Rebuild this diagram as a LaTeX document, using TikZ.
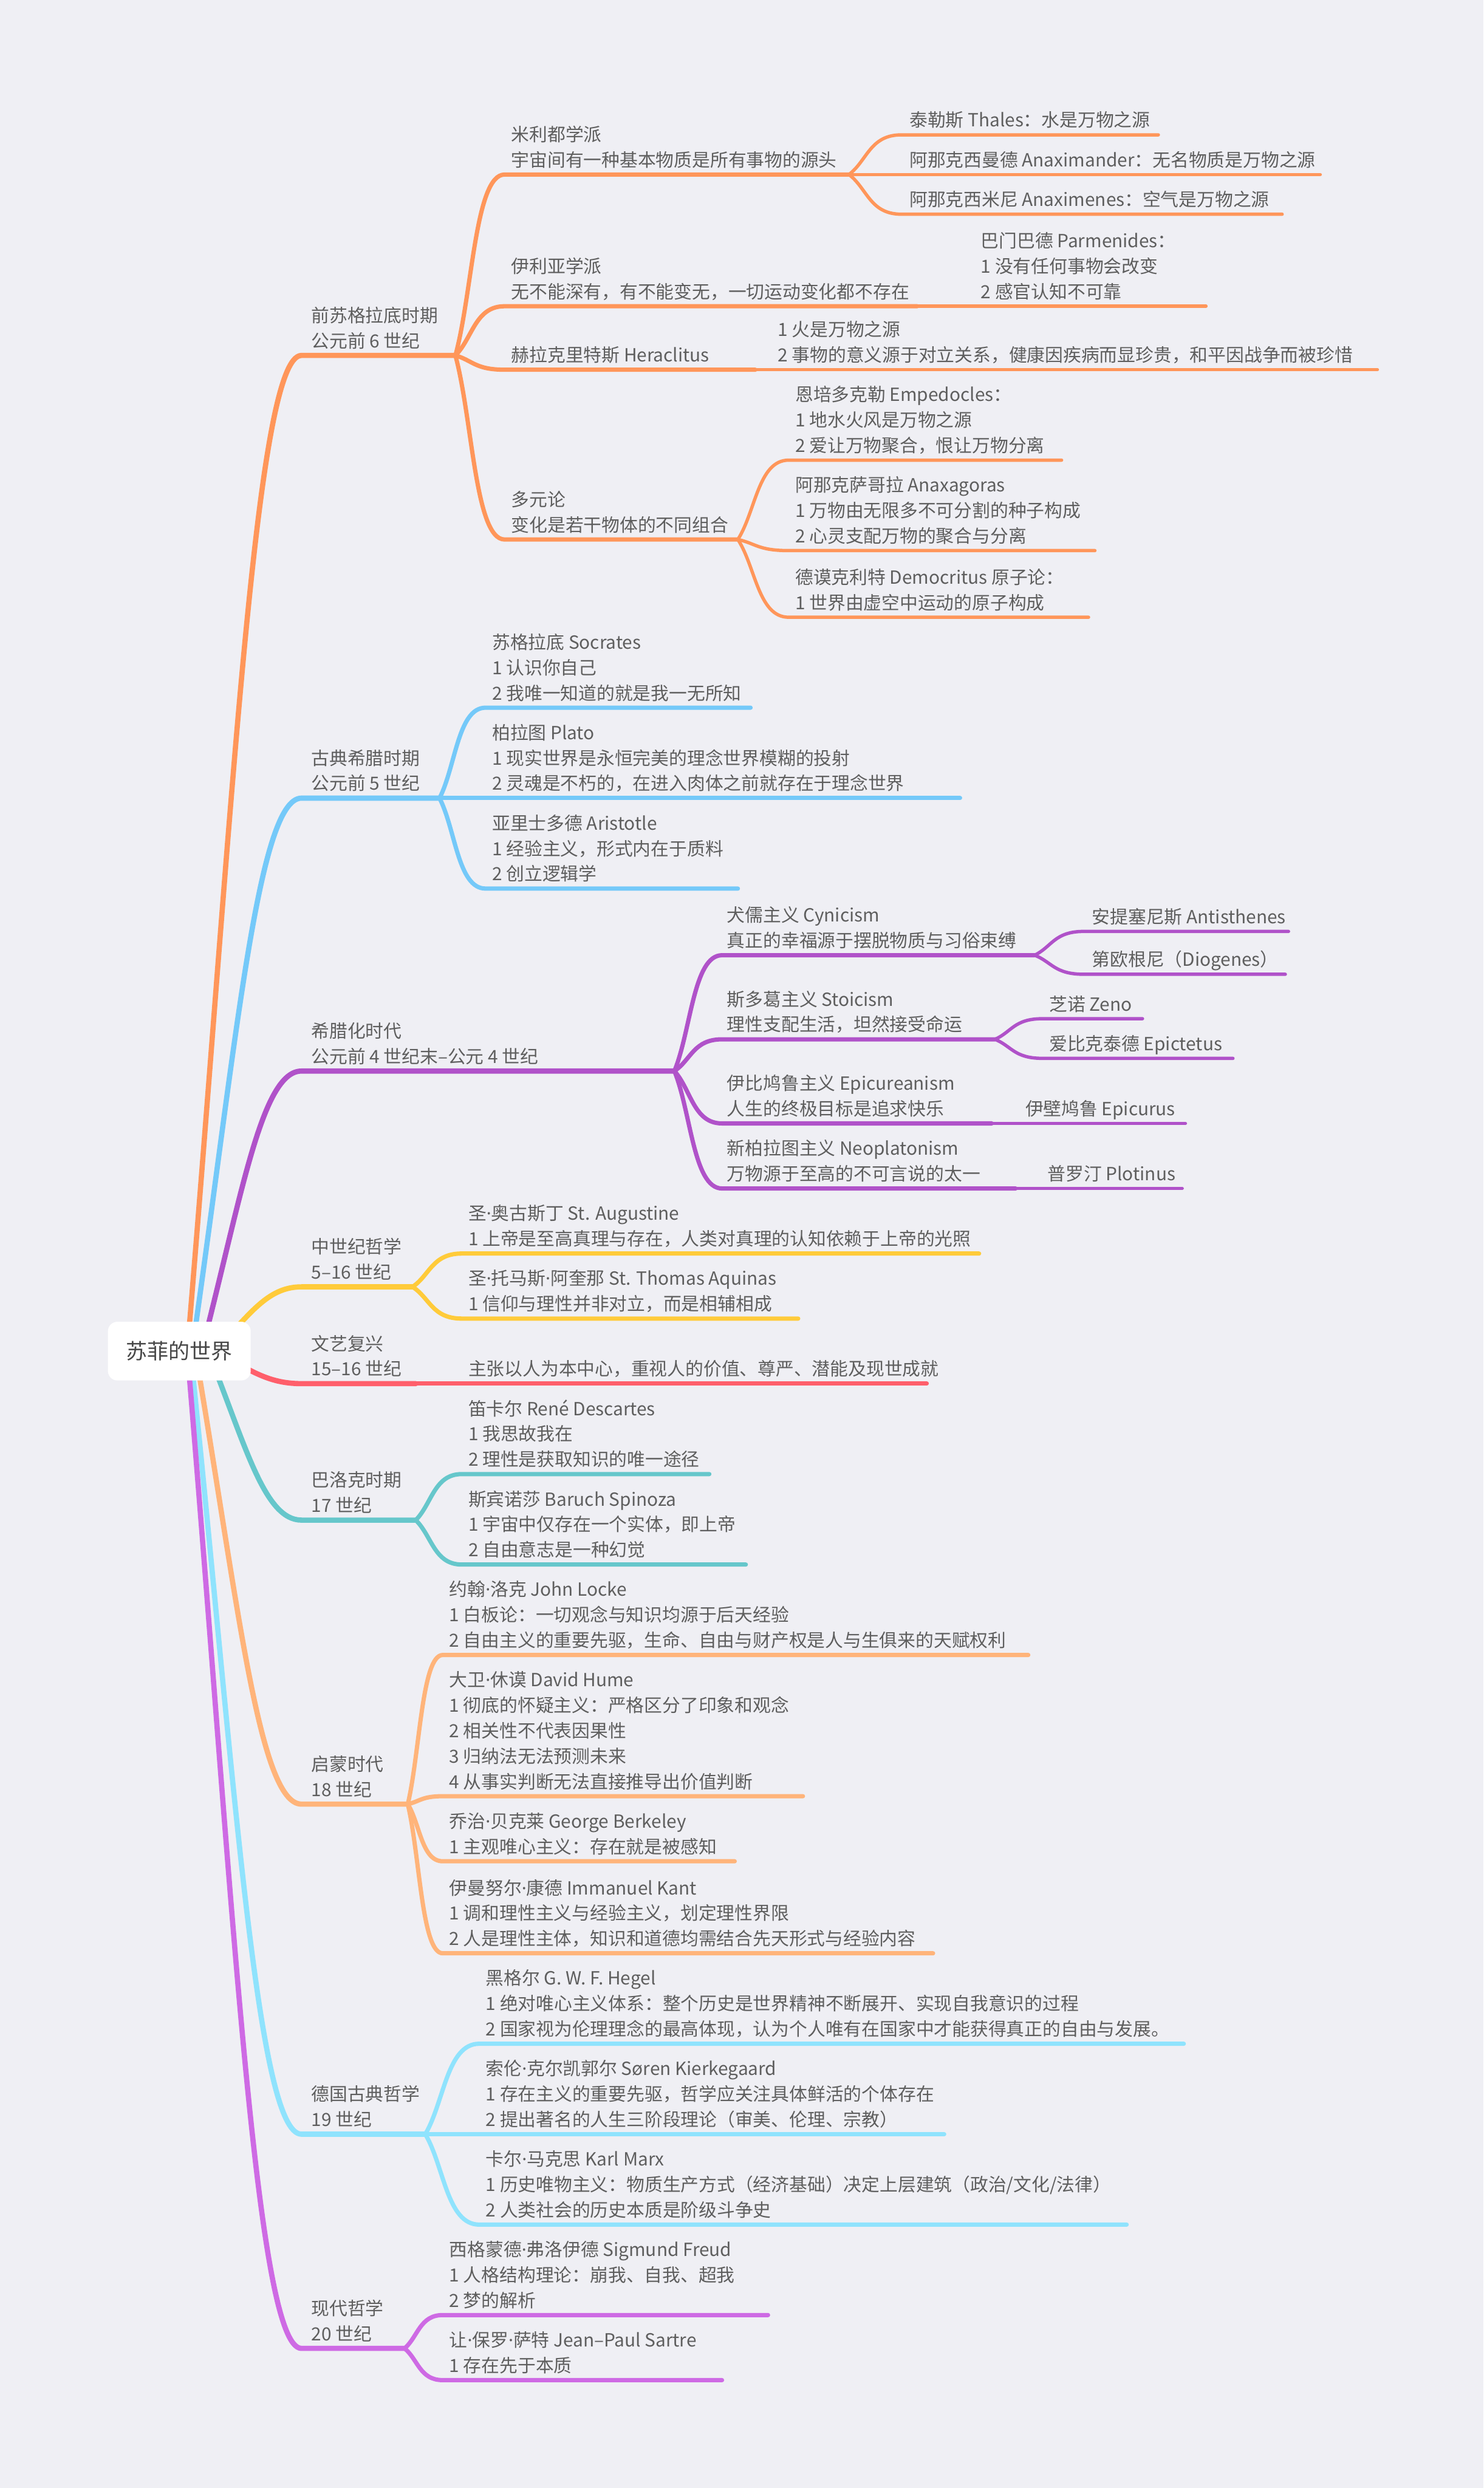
\documentclass[tikz,border=0pt]{standalone}
\usepackage{fontspec}
\setmainfont{Noto Sans CJK SC}
\newfontfamily\dotfont{Noto Sans}
\newcommand\mdot{{\dotfont ·}}
\usetikzlibrary{calc}
\definecolor{bgc}{HTML}{EFEFF4}
\definecolor{txtc}{HTML}{5E5E5E}
\definecolor{rootc}{HTML}{474747}
\definecolor{c1}{HTML}{FF965A}
\definecolor{c2}{HTML}{74C9F9}
\definecolor{c3}{HTML}{B052C9}
\definecolor{c4}{HTML}{FFCB3A}
\definecolor{c5}{HTML}{FF5F6B}
\definecolor{c6}{HTML}{66C7CB}
\definecolor{c7}{HTML}{FFB47A}
\definecolor{c8}{HTML}{8FE3FD}
\definecolor{c9}{HTML}{CE6AE4}
\pgfdeclarelayer{back}\pgfdeclarelayer{lines}\pgfsetlayers{back,lines,main}
\newcommand\mmsub[4]{\begin{pgfonlayer}{lines}\draw[#1] let \p1=(#2), \p2=(#3) in (\p1) .. controls ({\x1+0.35*(\x2-\x1)},{\y1+0.35*(\y2-\y1)}) and ({\x2-0.6*(\x2-\x1)},\y2) .. (\p2) -- (#4);\end{pgfonlayer}}
\newcommand\mmstraight[3]{\begin{pgfonlayer}{lines}\draw[#1] (#2) -- (#3);\end{pgfonlayer}}
\newcommand\mmroot[4]{\begin{pgfonlayer}{lines}\draw[l1,#1] let \p1=([xshift=#2]root.center), \p2=(#3) in (\p1) .. controls ({\x1+0.4*(\x2-\x1)},{\y1+0.55*(\y2-\y1)}) and ({\x2-0.4*(\x2-\x1)},\y2) .. (\p2) -- (#4);\end{pgfonlayer}}
\tikzset{
  l1/.style={line width=3.3pt, line cap=round, line join=round},
  l2/.style={line width=2.7pt, line cap=round, line join=round},
  l3/.style={line width=2.1pt, line cap=round, line join=round},
  txt/.style={anchor=south west, inner sep=0pt, align=left, text=txtc},
  t1/.style={txt, font=\fontsize{11.4}{16}\selectfont},
  t2/.style={txt, font=\fontsize{11.4}{16}\selectfont},
  rootbox/.style={fill=white, rounded corners=6pt, minimum width=90pt, minimum height=37pt, inner sep=0pt, text=rootc, font=\fontsize{13.4}{16}\selectfont}
}
\begin{document}
\begin{tikzpicture}[x=1pt,y=-1pt]
\begin{pgfonlayer}{back}\fill[bgc] (0,0) rectangle (935,1568);\end{pgfonlayer}
\useasboundingbox (0,0) rectangle (935,1568);
\node[rootbox] (root) at (113,851.5) {苏菲的世界};

% ---------- Branch 1: 前苏格拉底时期
\coordinate (b1s) at (190,224); \coordinate (b1e) at (287,224);
\node[t1] (b1) at (196,224) {前苏格拉底时期\\公元前 6 世纪\strut};
\mmroot{c1}{5pt}{b1s}{b1e}
\coordinate (a1s) at (318,110); \coordinate (a1e) at (535,110);
\node[t2] (a1) at (322,110) {米利都学派\\宇宙间有一种基本物质是所有事物的源头\strut};
\mmsub{l2,c1}{b1e}{a1s}{a1e}
\coordinate (a11s) at (568,85); \coordinate (a11e) at (730,85);
\node[t2] (a11) at (573,85) {泰勒斯 Thales：水是万物之源\strut};
\mmsub{l3,c1}{a1e}{a11s}{a11e}
\coordinate (a12e) at (832,110);
\node[t2] (a12) at (573,110) {阿那克西曼德 Anaximander：无名物质是万物之源\strut};
\mmstraight{l3,c1}{a1e}{a12e}
\coordinate (a13s) at (568,135); \coordinate (a13e) at (808,135);
\node[t2] (a13) at (573,135) {阿那克西米尼 Anaximenes：空气是万物之源\strut};
\mmsub{l3,c1}{a1e}{a13s}{a13e}

\coordinate (a2s) at (318,193); \coordinate (a2e) at (578,193);
\node[t2] (a2) at (322,193) {伊利亚学派\\无不能深有，有不能变无，一切运动变化都不存在\strut};
\mmsub{l2,c1}{b1e}{a2s}{a2e}
\coordinate (a21e) at (760,193);
\node[t2] (a21) at (618,193) {巴门巴德 Parmenides：\\1 没有任何事物会改变\\2 感官认知不可靠\strut};
\mmstraight{l3,c1}{a2e}{a21e}

\coordinate (a3s) at (318,233); \coordinate (a3e) at (476,233);
\node[t2] (a3) at (322,233) {赫拉克里特斯 Heraclitus\strut};
\mmsub{l2,c1}{b1e}{a3s}{a3e}
\coordinate (a31e) at (868,233);
\node[t2] (a31) at (490,233) {1 火是万物之源\\2 事物的意义源于对立关系，健康因疾病而显珍贵，和平因战争而被珍惜\strut};
\mmstraight{l3,c1}{a3e}{a31e}

\coordinate (a4s) at (318,340); \coordinate (a4e) at (465,340);
\node[t2] (a4) at (322,340) {多元论\\变化是若干物体的不同组合\strut};
\mmsub{l2,c1}{b1e}{a4s}{a4e}
\coordinate (a41s) at (497,290); \coordinate (a41e) at (669,290);
\node[t2] (a41) at (501,290) {恩培多克勒 Empedocles：\\1 地水火风是万物之源\\2 爱让万物聚合，恨让万物分离\strut};
\mmsub{l3,c1}{a4e}{a41s}{a41e}
\coordinate (a42s) at (497,347); \coordinate (a42e) at (690,347);
\node[t2] (a42) at (501,347) {阿那克萨哥拉 Anaxagoras\\1 万物由无限多不可分割的种子构成\\2 心灵支配万物的聚合与分离\strut};
\mmsub{l3,c1}{a4e}{a42s}{a42e}
\coordinate (a43s) at (497,389); \coordinate (a43e) at (686,389);
\node[t2] (a43) at (501,389) {德谟克利特 Democritus 原子论：\\1 世界由虚空中运动的原子构成\strut};
\mmsub{l3,c1}{a4e}{a43s}{a43e}

% ---------- Branch 2: 古典希腊时期
\coordinate (b2s) at (190,503); \coordinate (b2e) at (277,503);
\node[t1] (b2) at (196,503) {古典希腊时期\\公元前 5 世纪\strut};
\mmroot{c2}{8pt}{b2s}{b2e}
\coordinate (d1s) at (306,446); \coordinate (d1e) at (473,446);
\node[t2] (d1) at (310,446) {苏格拉底 Socrates\\1 认识你自己\\2 我唯一知道的就是我一无所知\strut};
\mmsub{l2,c2}{b2e}{d1s}{d1e}
\coordinate (d2e) at (605,503);
\node[t2] (d2) at (310,503) {柏拉图 Plato\\1 现实世界是永恒完美的理念世界模糊的投射\\2 灵魂是不朽的，在进入肉体之前就存在于理念世界\strut};
\mmstraight{l2,c2}{b2e}{d2e}
\coordinate (d3s) at (306,560); \coordinate (d3e) at (465,560);
\node[t2] (d3) at (310,560) {亚里士多德 Aristotle\\1 经验主义，形式内在于质料\\2 创立逻辑学\strut};
\mmsub{l2,c2}{b2e}{d3s}{d3e}

% ---------- Branch 3: 希腊化时代
\coordinate (b3s) at (190,675); \coordinate (b3e) at (425,675);
\node[t1] (b3) at (196,675) {希腊化时代\\公元前 4 世纪末–公元 4 世纪\strut};
\mmroot{c3}{14pt}{b3s}{b3e}
\coordinate (h1s) at (455,602); \coordinate (h1e) at (652,602);
\node[t2] (h1) at (458,602) {犬儒主义 Cynicism\\真正的幸福源于摆脱物质与习俗束缚\strut};
\mmsub{l2,c3}{b3e}{h1s}{h1e}
\coordinate (h11s) at (683,587); \coordinate (h11e) at (812,587);
\node[t2] (h11) at (688,587) {安提塞尼斯 Antisthenes\strut};
\mmsub{l3,c3}{h1e}{h11s}{h11e}
\coordinate (h12s) at (683,614); \coordinate (h12e) at (810,614);
\node[t2] (h12) at (688,614) {第欧根尼（Diogenes）\strut};
\mmsub{l3,c3}{h1e}{h12s}{h12e}
\coordinate (h2s) at (455,655); \coordinate (h2e) at (627,655);
\node[t2] (h2) at (458,655) {斯多葛主义 Stoicism\\理性支配生活，坦然接受命运\strut};
\mmsub{l2,c3}{b3e}{h2s}{h2e}
\coordinate (h21s) at (657,642); \coordinate (h21e) at (720,642);
\node[t2] (h21) at (661,642) {芝诺 Zeno\strut};
\mmsub{l3,c3}{h2e}{h21s}{h21e}
\coordinate (h22s) at (657,667); \coordinate (h22e) at (777,667);
\node[t2] (h22) at (661,667) {爱比克泰德 Epictetus\strut};
\mmsub{l3,c3}{h2e}{h22s}{h22e}
\coordinate (h3s) at (455,708); \coordinate (h3e) at (625,708);
\node[t2] (h3) at (458,708) {伊比鸠鲁主义 Epicureanism\\人生的终极目标是追求快乐\strut};
\mmsub{l2,c3}{b3e}{h3s}{h3e}
\coordinate (h31e) at (747,708);
\node[t2] (h31) at (646,708) {伊壁鸠鲁 Epicurus\strut};
\mmstraight{l3,c3}{h3e}{h31e}
\coordinate (h4s) at (455,749); \coordinate (h4e) at (640,749);
\node[t2] (h4) at (458,749) {新柏拉图主义 Neoplatonism\\万物源于至高的不可言说的太一\strut};
\mmsub{l2,c3}{b3e}{h4s}{h4e}
\coordinate (h41e) at (745,749);
\node[t2] (h41) at (660,749) {普罗汀 Plotinus\strut};
\mmstraight{l3,c3}{h4e}{h41e}

% ---------- Branch 4: 中世纪哲学
\coordinate (b4s) at (190,811); \coordinate (b4e) at (260,811);
\node[t1] (b4) at (196,811) {中世纪哲学\\5–16 世纪\strut};
\mmroot{c4}{22pt}{b4s}{b4e}
\coordinate (m1s) at (291,790); \coordinate (m1e) at (617,790);
\node[t2] (m1) at (295,790) {圣\mdot 奥古斯丁 St. Augustine\\1 上帝是至高真理与存在，人类对真理的认知依赖于上帝的光照\strut};
\mmsub{l2,c4}{b4e}{m1s}{m1e}
\coordinate (m2s) at (291,831); \coordinate (m2e) at (503,831);
\node[t2] (m2) at (295,831) {圣\mdot 托马斯\mdot 阿奎那 St. Thomas Aquinas\\1 信仰与理性并非对立，而是相辅相成\strut};
\mmsub{l2,c4}{b4e}{m2s}{m2e}

% ---------- Branch 5: 文艺复兴
\coordinate (b5s) at (190,872); \coordinate (b5e) at (262,872);
\node[t1] (b5) at (196,872) {文艺复兴\\15–16 世纪\strut};
\mmroot{c5}{22pt}{b5s}{b5e}
\coordinate (r1e) at (584,872);
\node[t2] (r1) at (295,872) {主张以人为本中心，重视人的价值、尊严、潜能及现世成就\strut};
\mmstraight{l2,c5}{b5e}{r1e}

% ---------- Branch 6: 巴洛克时期
\coordinate (b6s) at (190,958); \coordinate (b6e) at (262,958);
\node[t1] (b6) at (196,958) {巴洛克时期\\17 世纪\strut};
\mmroot{c6}{18pt}{b6s}{b6e}
\coordinate (k1s) at (291,929); \coordinate (k1e) at (447,929);
\node[t2] (k1) at (295,929) {笛卡尔 René Descartes\\1 我思故我在\\2 理性是获取知识的唯一途径\strut};
\mmsub{l2,c6}{b6e}{k1s}{k1e}
\coordinate (k2s) at (291,986); \coordinate (k2e) at (470,986);
\node[t2] (k2) at (295,986) {斯宾诺莎 Baruch Spinoza\\1 宇宙中仅存在一个实体，即上帝\\2 自由意志是一种幻觉\strut};
\mmsub{l2,c6}{b6e}{k2s}{k2e}

% ---------- Branch 7: 启蒙时代
\coordinate (b7s) at (190,1137); \coordinate (b7e) at (257,1137);
\node[t1] (b7) at (196,1137) {启蒙时代\\18 世纪\strut};
\mmroot{c7}{10pt}{b7s}{b7e}
\coordinate (e1s) at (279,1043); \coordinate (e1e) at (648,1043);
\node[t2] (e1) at (283,1043) {约翰\mdot 洛克 John Locke\\1 白板论：一切观念与知识均源于后天经验\\2 自由主义的重要先驱，生命、自由与财产权是人与生俱来的天赋权利\strut};
\mmsub{l2,c7}{b7e}{e1s}{e1e}
\coordinate (e2s) at (279,1132); \coordinate (e2e) at (506,1132);
\node[t2] (e2) at (283,1132) {大卫\mdot 休谟 David Hume\\1 彻底的怀疑主义：严格区分了印象和观念\\2 相关性不代表因果性\\3 归纳法无法预测未来\\4 从事实判断无法直接推导出价值判断\strut};
\mmsub{l2,c7}{b7e}{e2s}{e2e}
\coordinate (e3s) at (279,1173); \coordinate (e3e) at (463,1173);
\node[t2] (e3) at (283,1173) {乔治\mdot 贝克莱 George Berkeley\\1 主观唯心主义：存在就是被感知\strut};
\mmsub{l2,c7}{b7e}{e3s}{e3e}
\coordinate (e4s) at (279,1231); \coordinate (e4e) at (588,1231);
\node[t2] (e4) at (283,1231) {伊曼努尔\mdot 康德 Immanuel Kant\\1 调和理性主义与经验主义，划定理性界限\\2 人是理性主体，知识和道德均需结合先天形式与经验内容\strut};
\mmsub{l2,c7}{b7e}{e4s}{e4e}

% ---------- Branch 8: 德国古典哲学
\coordinate (b8s) at (190,1345); \coordinate (b8e) at (268,1345);
\node[t1] (b8) at (196,1345) {德国古典哲学\\19 世纪\strut};
\mmroot{c8}{7pt}{b8s}{b8e}
\coordinate (g1s) at (302,1288); \coordinate (g1e) at (746,1288);
\node[t2] (g1) at (306,1288) {黑格尔 G. W. F. Hegel\\1 绝对唯心主义体系：整个历史是世界精神不断展开、实现自我意识的过程\\2 国家视为伦理理念的最高体现，认为个人唯有在国家中才能获得真正的自由与发展。\strut};
\mmsub{l2,c8}{b8e}{g1s}{g1e}
\coordinate (g2e) at (595,1345);
\node[t2] (g2) at (306,1345) {索伦\mdot 克尔凯郭尔 Søren Kierkegaard\\1 存在主义的重要先驱，哲学应关注具体鲜活的个体存在\\2 提出著名的人生三阶段理论（审美、伦理、宗教）\strut};
\mmstraight{l2,c8}{b8e}{g2e}
\coordinate (g3s) at (302,1402); \coordinate (g3e) at (710,1402);
\node[t2] (g3) at (306,1402) {卡尔\mdot 马克思 Karl Marx\\1 历史唯物主义：物质生产方式（经济基础）决定上层建筑（政治/文化/法律）\\2 人类社会的历史本质是阶级斗争史\strut};
\mmsub{l2,c8}{b8e}{g3s}{g3e}

% ---------- Branch 9: 现代哲学
\coordinate (b9s) at (190,1480); \coordinate (b9e) at (255,1480);
\node[t1] (b9) at (196,1480) {现代哲学\\20 世纪\strut};
\mmroot{c9}{5pt}{b9s}{b9e}
\coordinate (x1s) at (279,1459); \coordinate (x1e) at (484,1459);
\node[t2] (x1) at (283,1459) {西格蒙德\mdot 弗洛伊德 Sigmund Freud\\1 人格结构理论：崩我、自我、超我\\2 梦的解析\strut};
\mmsub{l2,c9}{b9e}{x1s}{x1e}
\coordinate (x2s) at (279,1500); \coordinate (x2e) at (455,1500);
\node[t2] (x2) at (283,1500) {让\mdot 保罗\mdot 萨特 Jean–Paul Sartre\\1 存在先于本质\strut};
\mmsub{l2,c9}{b9e}{x2s}{x2e}
\end{tikzpicture}
\end{document}
